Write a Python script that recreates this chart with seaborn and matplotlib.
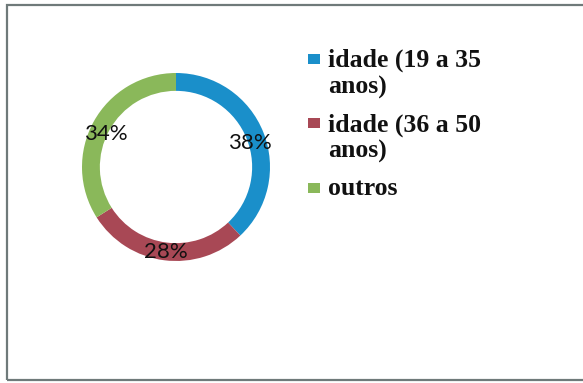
import matplotlib
matplotlib.use("Agg")
import matplotlib.pyplot as plt
import seaborn as sns
import numpy as np
from matplotlib.patches import Rectangle

sns.set_style("white")

categories = ["idade (19 a 35\nanos)", "idade (36 a 50\nanos)", "outros"]
values = [38, 28, 34]
labels = ["38%", "28%", "34%"]
colors = ["#1a8fca", "#a84855", "#8ab85a"]

W, H = 583, 383
fig = plt.figure(figsize=(W / 100, H / 100), dpi=100)
fig.patch.set_facecolor("white")

# frame
fig.patches.append(Rectangle((7 / W, 3 / H), (W - 6) / W, (H - 8) / H,
                             transform=fig.transFigure, fill=False,
                             edgecolor="#6f7a7a", linewidth=1.6))

cx, cy, r = 176, 167, 94
ax = fig.add_axes([(cx - r) / W, (H - cy - r) / H, 2 * r / W, 2 * r / H])
wedges, _ = ax.pie(values, colors=colors, startangle=90, counterclock=False,
                   radius=1.0, wedgeprops=dict(width=0.19, edgecolor="none"))
ax.set_xlim(-1, 1)
ax.set_ylim(-1, 1)
ax.set_aspect("equal")
ax.axis("off")

cum = 0
for v, lab in zip(values, labels):
    mid = (cum + v / 2) / sum(values) * 2 * np.pi
    cum += v
    rr = 0.85
    ax.text(rr * np.sin(mid), rr * np.cos(mid) - 0.04, lab, ha="center",
            va="center_baseline", fontsize=16, family="Lato", color="#111111")

# legend (square aligned with first line of each entry)
line_px = 27.5
gap_px = 9.5
base = 66.0
for cat, c in zip(categories, colors):
    nl = cat.count("\n")
    fig.patches.append(Rectangle((308 / W, (H - base + 2) / H), 12 / W, 10 / H,
                                 transform=fig.transFigure, facecolor=c,
                                 edgecolor="none"))
    fig.text(328 / W, (H - base - nl * line_px) / H, cat, ha="left",
             va="baseline", family="Liberation Serif", weight="bold",
             fontsize=18.5, linespacing=1.18, color="#111111")
    base += nl * line_px + line_px + gap_px

fig.savefig("out.png", dpi=100)
